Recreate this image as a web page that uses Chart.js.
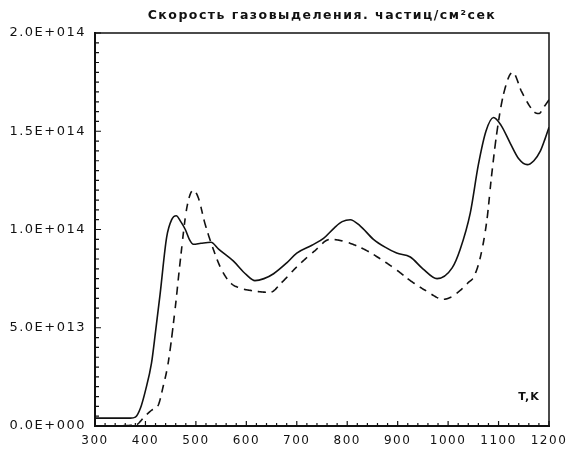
<!DOCTYPE html>
<html>
<head>
<meta charset="utf-8">
<script src="https://cdn.jsdelivr.net/npm/chart.js@4"></script>
<style>
  html, body { margin: 0; padding: 0; background: #fff; }
  #wrap { width: 575px; height: 456px; }
</style>
</head>
<body>
<div id="wrap"><canvas id="myChart" width="575" height="456"></canvas></div>
<script>
// значения в единицах 1E+13 частиц/см2сек
const UNIT = 1e13;
const titleText = "Скорость газовыделения. частиц/см²сек";
const axisLabel = "T,K";

const tempSolid = [300, 370, 380, 390, 400, 412, 420, 429, 442, 452, 461, 470, 479, 487, 495, 510, 530, 545, 574, 600, 617, 635, 654, 680, 700, 730, 753, 775, 790, 806, 825, 852, 875, 898, 925, 950, 978, 1008, 1024, 1044, 1060, 1075, 1090, 1105, 1123, 1140, 1157, 1170, 1183, 1192, 1200];
const rateSolid = [0.4, 0.4, 0.45, 0.9, 1.8, 3.2, 4.8, 6.7, 9.6, 10.5, 10.7, 10.4, 10.0, 9.5, 9.25, 9.3, 9.35, 9.0, 8.4, 7.7, 7.4, 7.5, 7.75, 8.3, 8.8, 9.2, 9.55, 10.1, 10.4, 10.5, 10.2, 9.5, 9.1, 8.8, 8.6, 8.0, 7.5, 8.05, 9.0, 10.85, 13.3, 15.0, 15.7, 15.3, 14.4, 13.6, 13.3, 13.5, 14.0, 14.6, 15.2];

const tempDashed = [300, 380, 399, 412, 426, 435, 445, 459, 469, 482, 495, 505, 518, 538, 550, 568, 590, 608, 647, 670, 700, 735, 766, 793, 833, 872, 900, 925, 955, 991, 1005, 1024, 1040, 1051, 1064, 1077, 1086, 1097, 1110, 1128, 1146, 1170, 1180, 1189, 1200];
const rateDashed = [0.0, 0.05, 0.5, 0.8, 1.1, 2.0, 3.2, 6.0, 8.4, 11.1, 12.0, 11.6, 10.3, 8.75, 8.0, 7.3, 7.0, 6.9, 6.8, 7.3, 8.1, 8.9, 9.5, 9.4, 9.0, 8.4, 7.9, 7.4, 6.9, 6.45, 6.55, 6.9, 7.3, 7.6, 8.6, 10.5, 12.7, 15.0, 16.9, 18.0, 17.0, 16.0, 15.9, 16.2, 16.6];

const xTicks = [300, 400, 500, 600, 700, 800, 900, 1000, 1100, 1200];
const yTickStep = 5e13;
const dashPattern = [8, 6];

function toPoints(xs, ys) {
  return xs.map((x, i) => ({ x: x, y: ys[i] * UNIT }));
}

function sciLabel(v) {
  const parts = Number(v).toExponential(1).split('e');
  const sign = parts[1][0];
  const pow = String(Math.abs(+parts[1])).padStart(3, '0');
  return parts[0] + 'E' + sign + pow;
}

// точки кривой Безье по контрольным точкам, которые посчитал Chart.js
function sampleCurve(pts, steps) {
  const out = [];
  for (let j = 1; j < pts.length; j++) {
    const q = pts[j - 1], p = pts[j];
    for (let k = (j === 1 ? 0 : 1); k <= steps; k++) {
      const t = k / steps, u = 1 - t;
      out.push({
        x: u * u * u * q.x + 3 * u * u * t * q.cp2x + 3 * u * t * t * p.cp1x + t * t * t * p.x,
        y: u * u * u * q.y + 3 * u * u * t * q.cp2y + 3 * u * t * t * p.cp1y + t * t * t * p.y
      });
    }
  }
  return out;
}

// каждый штрих — отдельный stroke()
function strokeDashed(ctx, pts, pattern) {
  const period = pattern[0] + pattern[1];
  const line = sampleCurve(pts, 24);
  let dist = 0;
  let dash = null;
  for (let i = 1; i < line.length; i++) {
    const a = line[i - 1], b = line[i];
    const on = (dist % period) < pattern[0];
    if (on) {
      if (!dash) dash = [a];
      dash.push(b);
    } else if (dash) {
      ctx.beginPath();
      ctx.moveTo(dash[0].x, dash[0].y);
      for (let k = 1; k < dash.length; k++) ctx.lineTo(dash[k].x, dash[k].y);
      ctx.stroke();
      dash = null;
    }
    dist += Math.hypot(b.x - a.x, b.y - a.y);
  }
  if (dash) {
    ctx.beginPath();
    ctx.moveTo(dash[0].x, dash[0].y);
    for (let k = 1; k < dash.length; k++) ctx.lineTo(dash[k].x, dash[k].y);
    ctx.stroke();
  }
}

const dashedLine = {
  id: 'dashedLine',
  beforeDraw(chart) {
    chart.ctx.letterSpacing = '1.5px';
  },
  beforeDatasetsDraw(chart) {
    chart.ctx.letterSpacing = '0px';
  },
  afterDatasetsDraw(chart) {
    const ctx = chart.ctx;
    const a = chart.chartArea;
    chart.data.datasets.forEach((ds, i) => {
      if (!ds.dashed) return;
      const pts = chart.getDatasetMeta(i).data;
      ctx.save();
      ctx.beginPath();
      ctx.rect(a.left, a.top - 2, a.right - a.left, a.bottom - a.top + 2);
      ctx.clip();
      ctx.strokeStyle = ds.dashColor;
      ctx.lineWidth = ds.dashWidth;
      ctx.lineCap = 'butt';
      ctx.lineJoin = 'round';
      strokeDashed(ctx, pts, dashPattern);
      ctx.restore();
    });
  }
};

// рамка, внутренние засечки и подпись оси
const framePlugin = {
  id: 'frame',
  afterDraw(chart) {
    const ctx = chart.ctx;
    const a = chart.chartArea;
    const xs = chart.scales.x, ys = chart.scales.y;
    ctx.save();
    ctx.strokeStyle = '#111';
    ctx.lineWidth = 1.5;
    ctx.beginPath();
    ctx.moveTo(a.left, a.top);
    ctx.lineTo(a.right, a.top);
    ctx.lineTo(a.right, a.bottom);
    ctx.stroke();

    ctx.lineWidth = 1.2;
    ctx.beginPath();
    for (let i = 0; i <= 45; i++) {
      const px = xs.getPixelForValue(300 + i * 20);
      const len = (i % 5 === 0) ? 5 : 3;
      ctx.moveTo(px, a.bottom);
      ctx.lineTo(px, a.bottom - len);
    }
    for (let i = 0; i <= 40; i++) {
      const py = ys.getPixelForValue(i * 5e12);
      const len = (i % 10 === 0) ? 6 : 4;
      ctx.moveTo(a.left, py);
      ctx.lineTo(a.left + len, py);
    }
    ctx.stroke();

    ctx.letterSpacing = '1px';
    ctx.fillStyle = '#111';
    ctx.font = 'bold 11px "DejaVu Sans"';
    ctx.textAlign = 'center';
    ctx.textBaseline = 'middle';
    ctx.fillText(axisLabel, a.right - 20, a.bottom - 29);
    ctx.restore();
    ctx.letterSpacing = '0px';
  }
};

const ctx = document.getElementById('myChart');
const myChart = new Chart(ctx, {
  type: 'line',
  data: {
    datasets: [
      {
        label: 'solid',
        data: toPoints(tempSolid, rateSolid),
        borderColor: '#111',
        borderWidth: 1.6,
        pointRadius: 0,
        cubicInterpolationMode: 'monotone',
        fill: false
      },
      {
        label: 'dashed',
        dashed: true,
        dashColor: '#111',
        dashWidth: 1.6,
        data: toPoints(tempDashed, rateDashed),
        borderColor: 'rgba(0,0,0,0)',
        borderWidth: 0,
        pointRadius: 0,
        cubicInterpolationMode: 'monotone',
        fill: false
      }
    ]
  },
  options: {
    responsive: false,
    animation: false,
    layout: { padding: { left: 0, right: 26, top: 4, bottom: 0 } },
    plugins: {
      legend: { display: false },
      tooltip: { enabled: false },
      title: {
        display: true,
        text: titleText,
        fullSize: false,
        color: '#111',
        font: { family: '"DejaVu Sans"', size: 12.5, weight: 'bold', lineHeight: 1.2 },
        padding: { top: 4, bottom: 10 }
      }
    },
    scales: {
      x: {
        type: 'linear',
        min: 300,
        max: 1200,
        afterBuildTicks: (scale) => { scale.ticks = xTicks.map(v => ({ value: v })); },
        afterFit: (scale) => { scale.height = 30; },
        grid: { display: false, drawTicks: false },
        border: { display: true, color: '#111', width: 2 },
        ticks: {
          color: '#111',
          padding: 8,
          maxRotation: 0,
          autoSkip: false,
          font: { family: '"DejaVu Sans"', size: 12 },
          callback: (v) => String(v)
        }
      },
      y: {
        min: 0,
        max: 2e14,
        afterFit: (scale) => { scale.width = 95; },
        grid: { display: false, drawTicks: false },
        border: { display: true, color: '#111', width: 2 },
        ticks: {
          stepSize: yTickStep,
          color: '#111',
          padding: 9,
          font: { family: '"DejaVu Sans"', size: 13 },
          callback: (v) => sciLabel(v)
        }
      }
    }
  },
  plugins: [dashedLine, framePlugin]
});
</script>
</body>
</html>
